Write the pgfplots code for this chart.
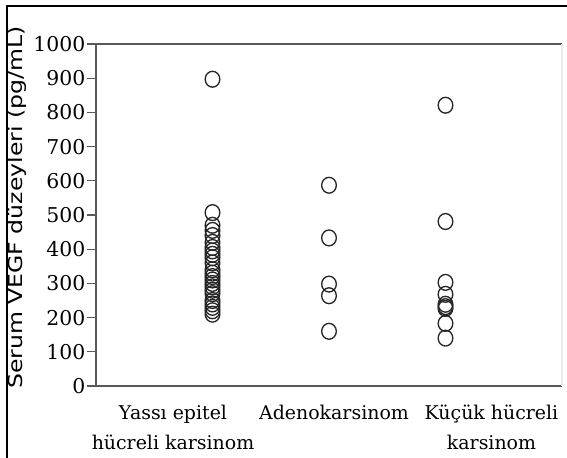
\documentclass[border=0pt]{standalone}
\usepackage{fontspec}
\setmainfont{DejaVu Serif}
\newfontfamily\labelfont{DejaVu Sans}
\usepackage{pgfplots}
\pgfplotsset{compat=1.18}
\begin{document}
\begin{tikzpicture}
\useasboundingbox (-72pt,-53.25pt) rectangle (353.25pt,289.5pt);
\draw[line width=1pt,black] (-66.75pt,-60pt) -- (-66.75pt,285pt) -- (360pt,285pt);
\begin{axis}[
  at={(0,0)}, anchor=south west,
  scale only axis, width=349.5pt, height=256.5pt,
  xmin=0, xmax=4, ymin=0, ymax=1000,
  axis line style={draw=none},
  ytick={0,100,...,1000},
  xtick={0.661,2.043,3.395},
  xticklabels={{Yassı epitel\\hücreli karsinom},{Adenokarsinom},{Küçük hücreli\\karsinom}},
  x tick label style={align=center, font=\fontsize{14.2}{23}\selectfont, anchor=north, yshift=-4pt},
  y tick label style={font=\fontsize{15.3}{15.3}\selectfont, xshift=2pt},
  xtick style={draw=none},
  ytick style={draw=black!65, line width=0.9pt},
  tick align=outside, tick pos=left, major tick length=6.5pt,
  /pgf/number format/assume math mode=true,
  /pgf/number format/1000 sep={},
  ylabel={\scalebox{1.22}[1]{\labelfont Serum VEGF düzeyleri (pg/mL)}},
  ylabel style={at={(axis description cs:-0.1695,0.522)}, anchor=center, font=\fontsize{14.5}{14.5}\selectfont},
  clip=false,
]
\draw[black!65, line width=1.1pt] (rel axis cs:0,0) -- (rel axis cs:0,1) -- (rel axis cs:1,1);
\draw[black!65, line width=1.1pt] (rel axis cs:0,0) -- (rel axis cs:1,0);
\draw[black!8, line width=1pt] (rel axis cs:1,0) -- (rel axis cs:1,1);
\addplot[only marks, mark=o, mark size=5.5pt, mark options={draw=black!85, line width=1pt, yscale=1.08}] coordinates {
(1,897) (1,507) (1,470) (1,455) (1,440) (1,420) (1,405) (1,395) (1,385) (1,375)
(1,360) (1,340) (1,330) (1,320) (1,310) (1,300) (1,290) (1,280) (1,270) (1,250)
(1,240) (1,230) (1,220) (1,210)
};
\addplot[only marks, mark=o, mark size=5.5pt, mark options={draw=black!85, line width=1pt, yscale=1.08}] coordinates {
(2,587) (2,433) (2,298) (2,264) (2,160)
};
\addplot[only marks, mark=o, mark size=5.5pt, mark options={draw=black!85, line width=1pt, yscale=1.08}] coordinates {
(3,821) (3,481) (3,303) (3,268) (3,239) (3,232) (3,227) (3,183) (3,140)
};
\end{axis}
\end{tikzpicture}
\end{document}
